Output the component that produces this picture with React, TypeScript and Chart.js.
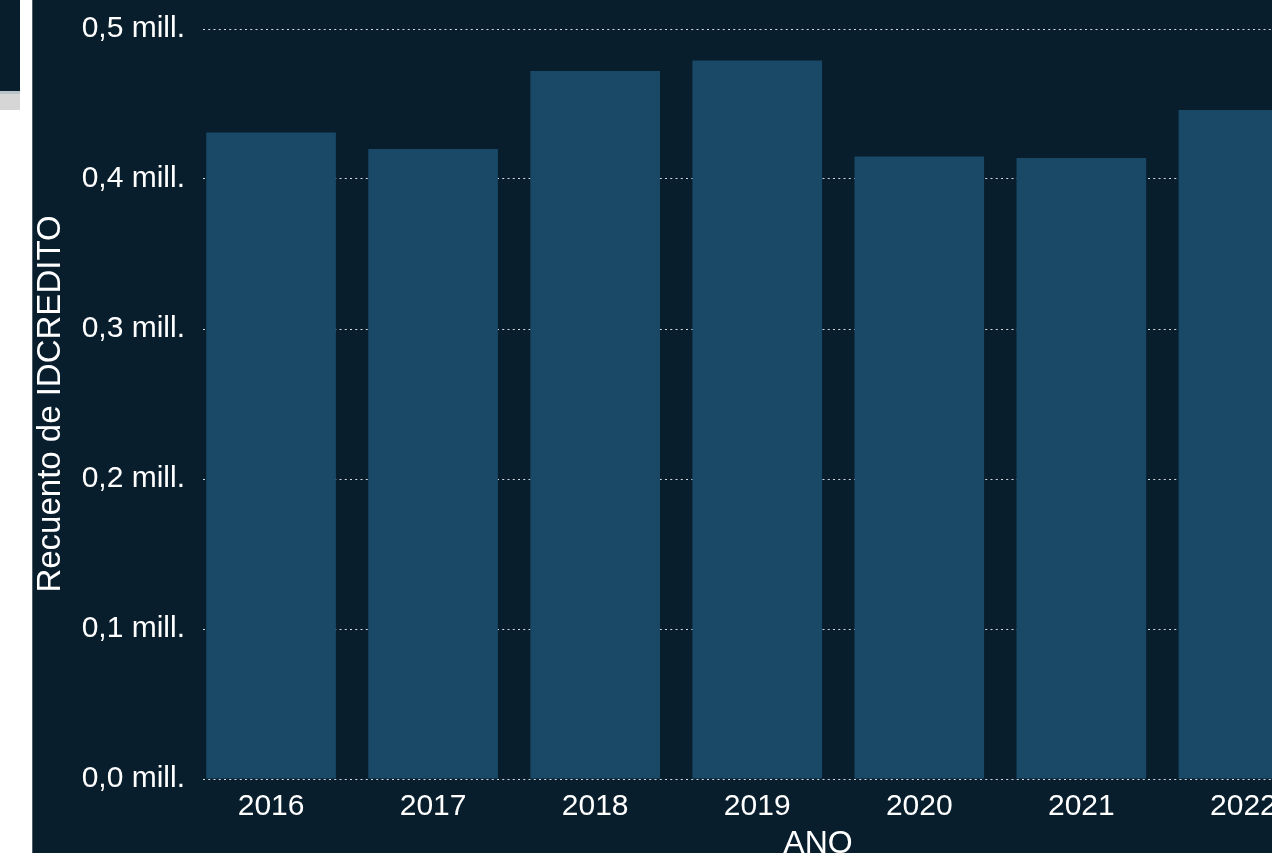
import React, { useEffect, useRef } from "react";
import { Chart, registerables } from "chart.js";

Chart.register(...registerables);

const years = [2016, 2017, 2018, 2019, 2020, 2021, 2022];
const counts = [431000, 420000, 472000, 479000, 415000, 414000, 446000];
const yTicks = [0, 100000, 200000, 300000, 400000, 500000];
const xTitle = "ANO";
const yTitle = "Recuento de IDCREDITO";

const FONT = 'Arial, "Liberation Sans", sans-serif';
const BG = "#081e2d";
const BAR = "#194966";

export default function App() {
  const ref = useRef<HTMLCanvasElement | null>(null);

  useEffect(() => {
    if (!ref.current) return;
    const chart = new Chart(ref.current, {
      type: "bar",
      data: {
        datasets: [
          {
            data: years.map((y, i) => ({ x: y, y: counts[i] })),
            backgroundColor: BAR,
            borderWidth: 0,
            barPercentage: 0.8,
            categoryPercentage: 1,
          },
        ],
      },
      options: {
        animation: false,
        responsive: false,
        devicePixelRatio: 1,
        layout: { padding: { top: 29, left: 0, right: 0, bottom: 0 } },
        plugins: { legend: { display: false }, tooltip: { enabled: false } },
        scales: {
          x: {
            type: "linear",
            offset: false,
            min: 2015.58,
            max: 2023.17,
            afterBuildTicks: (scale: any) => {
              scale.ticks = years.map((v) => ({ value: v }));
            },
            afterFit: (scale: any) => {
              scale.height = 101;
              scale.paddingLeft = 0;
              scale.paddingRight = 0;
            },
            grid: { display: false, drawTicks: false },
            border: { display: false },
            ticks: {
              color: "#ffffff",
              font: { family: FONT, size: 30 },
              padding: 10,
              callback: (v: any) => String(v),
              autoSkip: false,
              maxRotation: 0,
            },
            title: {
              display: true,
              text: xTitle,
              color: "#ffffff",
              font: { family: FONT, size: 32 },
              padding: { top: 0, bottom: 17 },
            },
          },
          y: {
            min: 0,
            max: 500000,
            afterBuildTicks: (scale: any) => {
              scale.ticks = yTicks.map((v) => ({ value: v }));
            },
            afterFit: (scale: any) => {
              scale.width = 170;
              scale.paddingTop = 0;
              scale.paddingBottom = 0;
            },
            grid: {
              color: "rgba(225,230,235,0.95)",
              lineWidth: 1,
              drawTicks: false,
            },
            border: { display: false, dash: [2, 3.25] },
            ticks: {
              color: "#ffffff",
              font: { family: FONT, size: 30 },
              padding: 18,
              callback: (v: any) =>
                (Number(v) / 1e6).toFixed(1).replace(".", ",") + " mill.",
            },
            title: {
              display: true,
              text: yTitle,
              color: "#ffffff",
              font: { family: FONT, size: 33, lineHeight: 1 },
              padding: { top: 1, bottom: 0 },
            },
          },
        },
      },
    });
    return () => chart.destroy();
  }, []);

  return (
    <div
      style={{
        position: "fixed",
        left: 0,
        top: 0,
        width: 1272,
        height: 853,
        background: "#ffffff",
        overflow: "hidden",
      }}
    >
      <div style={{ position: "absolute", left: 0, top: 0, width: 20, height: 91, background: BG }} />
      <div style={{ position: "absolute", left: 0, top: 91, width: 20, height: 3, background: "#b9c3ca" }} />
      <div style={{ position: "absolute", left: 0, top: 94, width: 20, height: 16, background: "#d6d6d6" }} />
      <div
        style={{
          position: "absolute",
          left: 32,
          top: 0,
          width: 1400,
          height: 880,
          background: BG,
          borderLeft: "1px solid #4f5d68",
        }}
      >
        <canvas ref={ref} width={1400} height={880} style={{ display: "block" }} />
      </div>
    </div>
  );
}
